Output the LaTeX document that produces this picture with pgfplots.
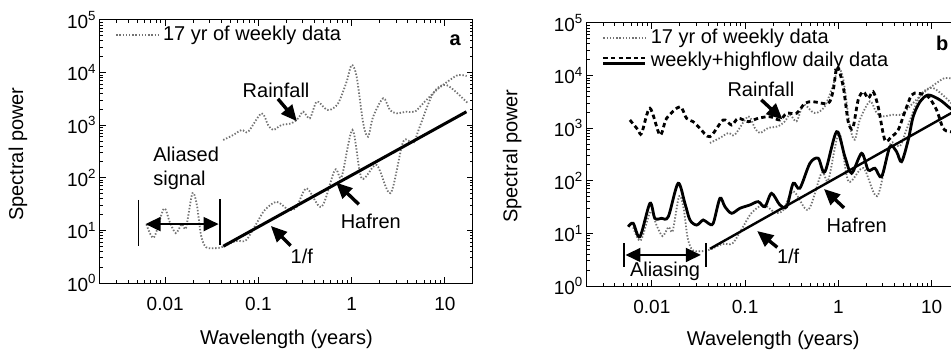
\documentclass[border=0pt]{standalone}
\usepackage{fontspec}
\setmainfont{Liberation Sans}
\usepackage{pgfplots}
\pgfplotsset{compat=1.18}
\usetikzlibrary{arrows.meta}

\pgfplotstableread{
x y
0.0419 523
0.0536 651
0.066 811
0.0776 752
0.108 1683
0.127 1009
0.144 811
0.177 1009
0.227 1087
0.267 1353
0.302 1806
0.356 1353
0.421 2800
0.516 2094
0.583 1945
0.716 2609
0.883 6714
0.998 13930
1.13 8356
1.33 1087
1.50 604
1.70 1452
2.18 3245
2.57 1945
3.03 1683
3.88 1806
4.76 1806
5.85 2609
8.14 4670
11.3 7230
13.9 9000
17.1 8620
}\rainweekly

\pgfplotstableread{
x y
0.0063 13
0.00757 7.3
0.00968 26
0.0112 14.4
0.013 8.9
0.0151 13.2
0.0167 11.1
0.0196 51
0.0219 30
0.0242 8.2
0.0274 4.8
0.035 4.6
0.0419 4.9
0.0573 6.3
0.0735 6.5
0.0955 13.6
0.117 24.4
0.157 35
0.212 24.4
0.257 28
0.329 63
0.475 28
0.66 141
0.78 104
1.02 811
1.28 98
1.85 175
2.61 51
3.57 486
4.57 453
5.37 936
7.48 4040
10.4 5810
17.6 2610
}\hafweekly

\pgfplotstableread{
x y
0.00557 13.4
0.0063 15.6
0.00744 8.65
0.00953 37.3
0.01076 19.4
0.0127 19.4
0.015 20.8
0.0191 89.6
0.0226 37.3
0.0256 18
0.0302 14.4
0.0355 18
0.0402 15.6
0.0455 15.6
0.0537 46.5
0.0607 32.2
0.0716 24.1
0.0879 30
0.1125 34.7
0.138 40.1
0.163 32.2
0.192 57.8
0.236 34.7
0.279 32.2
0.328 89.6
0.386 72
0.495 215
0.608 268
0.718 149
0.957 858
1.175 287
1.387 139
1.775 333
2.09 160
2.47 173
2.91 120
3.57 445
4.21 357
4.76 231
5.61 597
6.34 1655
7.48 3150
9.19 4280
12.3 3436
15.7 2420
18 2100
}\hafdaily

\pgfplotstableread{
x y
0.00581 1432
0.00713 925
0.00776 800
0.00953 2390
0.0122 743
0.0144 1543
0.02 2564
0.0235 1543
0.0277 1330
0.0327 996
0.0419 690
0.0582 1432
0.0716 1150
0.0844 1543
0.108 1330
0.138 1543
0.1845 1655
0.236 1432
0.279 1920
0.356 1920
0.4375 2974
0.537 3190
0.778 2974
0.881 5320
0.97 14760
1.127 6150
1.274 1330
1.43 1009
1.63 3436
1.85 4940
2.09 3700
2.36 4940
2.67 2564
3.15 597
3.72 690
4.38 925
5.17 2060
6.1 4280
7.18 4610
9.19 3970
11.3 2220
13.3 996
15.7 859
19 860
}\raindaily

\tikzset{
  weekly/.style={color=black!55, line width=0.9pt, dash pattern=on 0.7pt off 0.9pt},
  daily/.style={black, line width=1.4pt},
  dailydash/.style={black, line width=1.4pt, dash pattern=on 2.2pt off 1.6pt},
  ann/.style={-{Triangle[length=8pt,width=7pt]}, line width=1.7pt},
  dbl/.style={line width=0.9pt, {Triangle[length=7.5pt,width=7pt]}-{Triangle[length=7.5pt,width=7pt]}},
  lab/.style={font=\fontsize{10}{12}\selectfont, inner sep=0pt},
}

\begin{document}
\begin{tikzpicture}
\path[use as bounding box] (0,0) rectangle (475.5pt,179pt);

% ---------------- panel a ----------------
\begin{axis}[xmode=log, ymode=log, scale only axis, width=186.5pt, height=131.5pt,
  at={(50pt,37.5pt)}, anchor=south west,
  xmin=0.002, xmax=20, ymin=1, ymax=1e5,
  xtick={0.01,0.1,1,10}, xticklabels={0.01,0.1,1,10},
  ytick={1,10,100,1000,10000,100000},
  yticklabels={{10\textsuperscript{0}},{10\textsuperscript{1}},{10\textsuperscript{2}},{10\textsuperscript{3}},{10\textsuperscript{4}},{10\textsuperscript{5}}},
  minor xtick={0.002,0.003,0.004,0.005,0.006,0.007,0.008,0.009,0.02,0.03,0.04,0.05,0.06,0.07,0.08,0.09,0.2,0.3,0.4,0.5,0.6,0.7,0.8,0.9,2,3,4,5,6,7,8,9,20},
  minor ytick={2,3,4,5,6,7,8,9,20,30,40,50,60,70,80,90,200,300,400,500,600,700,800,900,2000,3000,4000,5000,6000,7000,8000,9000,20000,30000,40000,50000,60000,70000,80000,90000},
  tick align=inside, major tick length=3pt, minor tick length=1.6pt,
  axis line style={line width=0.5pt},
  tick style={black, line width=0.5pt},
  tick label style={font=\fontsize{9.5}{11}\selectfont},
  xticklabel style={anchor=north, inner sep=0pt, yshift=-7pt},
  yticklabel style={anchor=east, inner sep=0pt, xshift=-1.5pt},
  xlabel={Wavelength (years)}, ylabel={Spectral power},
  ylabel style={font=\fontsize{10}{12}\selectfont, at={(axis description cs:-0.22,0.49)}, anchor=center},
  xlabel style={font=\fontsize{10}{12}\selectfont, at={(axis description cs:0.5,-0.213)}, anchor=center},
  legend cell align=left,
  legend image code/.code={\draw[#1] (0pt,0pt) -- (21pt,0pt);},
  legend style={draw=none, fill=none, at={(rel axis cs:0.04,0.943)}, anchor=west,
    inner sep=0pt, font=\fontsize{10}{12}\selectfont}]
\addlegendimage{weekly}
\addlegendentry{17 yr of weekly data}
\addplot[weekly, smooth, tension=0.5, forget plot] table[x=x,y=y] {\rainweekly};
\addplot[weekly, smooth, tension=0.5, forget plot] table[x=x,y=y] {\hafweekly};
\addplot[black, line width=1.5pt, forget plot] coordinates {(0.042,5) (17,1800)};

\node[lab, anchor=west, align=left] at (rel axis cs:0.142,0.437) {Aliased\\signal};
\draw[line width=0.8pt] (rel axis cs:0.103,0.316) -- (rel axis cs:0.103,0.141);
\draw[line width=0.8pt] (rel axis cs:0.322,0.318) -- (rel axis cs:0.322,0.144);
\draw[dbl] (rel axis cs:0.122,0.224) -- (rel axis cs:0.318,0.224);
\node[lab] at (rel axis cs:0.472,0.734) {Rainfall};
\draw[ann] (rel axis cs:0.477,0.700) -- (rel axis cs:0.528,0.615);
\node[lab] at (rel axis cs:0.726,0.233) {Hafren};
\draw[ann] (rel axis cs:0.694,0.299) -- (rel axis cs:0.633,0.382);
\node[lab] at (rel axis cs:0.541,0.10) {1/f};
\draw[ann] (rel axis cs:0.511,0.142) -- (rel axis cs:0.458,0.217);
\node[lab, font=\fontsize{10}{12}\selectfont\bfseries] at (rel axis cs:0.952,0.924) {a};
\end{axis}

% ---------------- panel b ----------------
\begin{axis}[xmode=log, ymode=log, scale only axis, width=186.5pt, height=131.5pt,
  at={(293.35pt,36pt)}, anchor=south west,
  xmin=0.002, xmax=20, ymin=1, ymax=1e5,
  xtick={0.01,0.1,1,10}, xticklabels={0.01,0.1,1,10},
  ytick={1,10,100,1000,10000,100000},
  yticklabels={{10\textsuperscript{0}},{10\textsuperscript{1}},{10\textsuperscript{2}},{10\textsuperscript{3}},{10\textsuperscript{4}},{10\textsuperscript{5}}},
  minor xtick={0.002,0.003,0.004,0.005,0.006,0.007,0.008,0.009,0.02,0.03,0.04,0.05,0.06,0.07,0.08,0.09,0.2,0.3,0.4,0.5,0.6,0.7,0.8,0.9,2,3,4,5,6,7,8,9,20},
  minor ytick={2,3,4,5,6,7,8,9,20,30,40,50,60,70,80,90,200,300,400,500,600,700,800,900,2000,3000,4000,5000,6000,7000,8000,9000,20000,30000,40000,50000,60000,70000,80000,90000},
  tick align=inside, major tick length=3pt, minor tick length=1.6pt,
  axis line style={line width=0.5pt},
  tick style={black, line width=0.5pt},
  tick label style={font=\fontsize{9.5}{11}\selectfont},
  xticklabel style={anchor=north, inner sep=0pt, yshift=-7pt},
  yticklabel style={anchor=east, inner sep=0pt, xshift=-1.5pt},
  xlabel={Wavelength (years)}, ylabel={Spectral power},
  ylabel style={font=\fontsize{10}{12}\selectfont, at={(axis description cs:-0.20,0.494)}, anchor=center},
  xlabel style={font=\fontsize{10}{12}\selectfont, at={(axis description cs:0.5,-0.205)}, anchor=center},
  legend cell align=left,
  legend image code/.code={\draw[#1] (0pt,0pt) -- (21pt,0pt);},
  legend style={draw=none, fill=none, at={(rel axis cs:0.04,0.90)}, anchor=west,
    inner sep=0pt, row sep=-1.5pt, font=\fontsize{10}{12}\selectfont}]
\addlegendimage{weekly}
\addlegendentry{17 yr of weekly data}
\addlegendimage{legend image code/.code={\draw[dailydash] (0pt,1.3pt) -- (21pt,1.3pt); \draw[daily] (0pt,-1.3pt) -- (21pt,-1.3pt);}}
\addlegendentry{weekly+highflow daily data}
\addplot[weekly, smooth, tension=0.5, forget plot] table[x=x,y=y] {\rainweekly};
\addplot[weekly, smooth, tension=0.5, forget plot] table[x=x,y=y] {\hafweekly};
\addplot[dailydash, smooth, tension=0.5, forget plot] table[x=x,y=y] {\raindaily};
\addplot[daily, smooth, tension=0.5, forget plot] table[x=x,y=y] {\hafdaily};
\addplot[black, line width=1.2pt, forget plot] coordinates {(0.042,5.1) (18,2150)};

\draw[line width=0.9pt] (rel axis cs:0.10,0.163) -- (rel axis cs:0.10,0.072);
\draw[line width=0.9pt] (rel axis cs:0.32,0.163) -- (rel axis cs:0.32,0.072);
\draw[dbl] (rel axis cs:0.104,0.118) -- (rel axis cs:0.306,0.118);
\node[lab] at (rel axis cs:0.21,0.054) {Aliasing};
\node[lab] at (rel axis cs:0.467,0.748) {Rainfall};
\draw[ann] (rel axis cs:0.468,0.708) -- (rel axis cs:0.525,0.633);
\node[lab] at (rel axis cs:0.724,0.232) {Hafren};
\draw[ann] (rel axis cs:0.690,0.297) -- (rel axis cs:0.636,0.369);
\node[lab] at (rel axis cs:0.54,0.111) {1/f};
\draw[ann] (rel axis cs:0.511,0.147) -- (rel axis cs:0.457,0.209);
\node[lab, font=\fontsize{10}{12}\selectfont\bfseries] at (rel axis cs:0.953,0.923) {b};
\end{axis}
\end{tikzpicture}
\end{document}
